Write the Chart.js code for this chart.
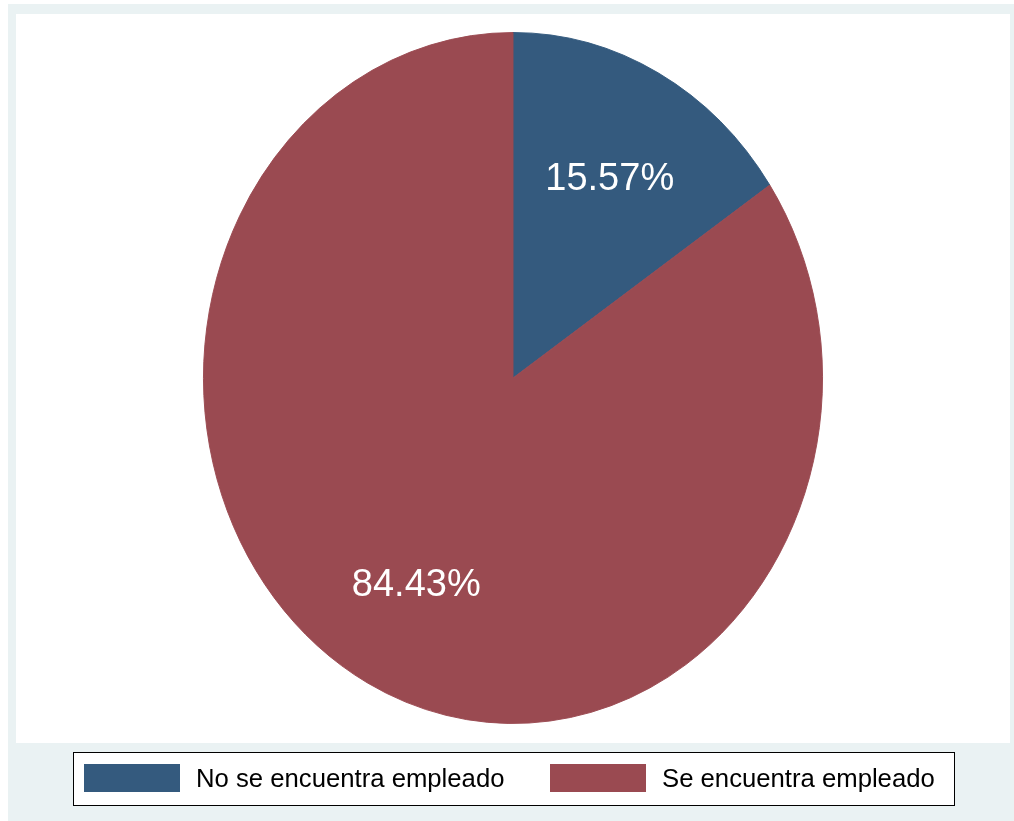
<!DOCTYPE html>
<html>
<head>
<meta charset="utf-8">
<script src="https://cdn.jsdelivr.net/npm/chart.js@4/dist/chart.umd.min.js"></script>
<style>
  html, body { margin: 0; padding: 0; background: #ffffff; }
  #wrap { width: 1014px; height: 821px; position: relative; }
</style>
</head>
<body>
<div id="wrap"><canvas id="pie"></canvas></div>
<script>
// Employment status shares (%)
const categories = ['No se encuentra empleado', 'Se encuentra empleado'];
const shares = [15.57, 84.43];
const sliceColors = ['#345a7e', '#9a4a51'];

const FONT = '"Liberation Sans", Arial, Helvetica, sans-serif';
const X_SQUEEZE = 310 / 346;   // pie is drawn as an upright ellipse

// Graph region backgrounds (outer tint + white plot area)
const backdrop = {
  id: 'backdrop',
  beforeDraw(chart) {
    const ctx = chart.ctx;
    ctx.save();
    ctx.fillStyle = '#ffffff';
    ctx.fillRect(0, 0, chart.width, chart.height);
    ctx.fillStyle = '#eaf2f3';
    ctx.fillRect(8, 4, chart.width - 8, chart.height - 4);
    ctx.fillStyle = '#ffffff';
    ctx.fillRect(16, 14, 994, 729);
    ctx.restore();
  }
};

// Squeeze the arcs horizontally around the pie centre, then label them
const ellipse = {
  id: 'ellipse',
  beforeDatasetsDraw(chart) {
    const arc = chart.getDatasetMeta(0).data[0];
    const ctx = chart.ctx;
    ctx.save();
    ctx.translate(arc.x, arc.y);
    ctx.scale(X_SQUEEZE, 1);
    ctx.translate(-arc.x, -arc.y);
  },
  afterDatasetsDraw(chart) {
    const ctx = chart.ctx;
    ctx.restore();
    const meta = chart.getDatasetMeta(0);
    const values = chart.data.datasets[0].data;
    ctx.save();
    ctx.fillStyle = '#ffffff';
    ctx.font = '38px ' + FONT;
    ctx.textAlign = 'center';
    ctx.textBaseline = 'middle';
    meta.data.forEach((a, i) => {
      const mid = (a.startAngle + a.endAngle) / 2;
      const r = a.outerRadius * 0.665;
      const px = a.x + Math.cos(mid) * r * X_SQUEEZE;
      const py = a.y + Math.sin(mid) * r + 4.5;
      ctx.fillText(values[i].toFixed(2) + '%', px, py);
    });
    ctx.restore();
  }
};

// Boxed legend under the plot area
const boxedLegend = {
  id: 'boxedLegend',
  afterDraw(chart) {
    const ctx = chart.ctx;
    const ds = chart.data.datasets[0];
    ctx.save();
    ctx.fillStyle = '#ffffff';
    ctx.fillRect(73, 752, 882, 54);
    ctx.strokeStyle = '#000000';
    ctx.lineWidth = 1;
    ctx.strokeRect(73.5, 752.5, 881, 53);
    const colStarts = [84, 550];
    ctx.font = '25.7px ' + FONT;
    ctx.textBaseline = 'middle';
    ctx.textAlign = 'left';
    chart.data.labels.forEach((lab, i) => {
      const x = colStarts[i];
      ctx.fillStyle = ds.backgroundColor[i];
      ctx.fillRect(x, 764, 96, 28);
      ctx.fillStyle = '#000000';
      ctx.fillText(lab, x + 112, 780);
    });
    ctx.restore();
  }
};

new Chart(document.getElementById('pie'), {
  type: 'pie',
  data: {
    labels: categories,
    datasets: [{
      data: shares,
      backgroundColor: sliceColors,
      borderColor: sliceColors,
      borderWidth: 1
    }]
  },
  options: {
    responsive: true,
    maintainAspectRatio: false,
    animation: false,
    layout: { padding: { top: 32, bottom: 97, left: 167, right: 155 } },
    plugins: {
      legend: { display: false },
      tooltip: { enabled: false }
    }
  },
  plugins: [backdrop, ellipse, boxedLegend]
});
</script>
</body>
</html>
